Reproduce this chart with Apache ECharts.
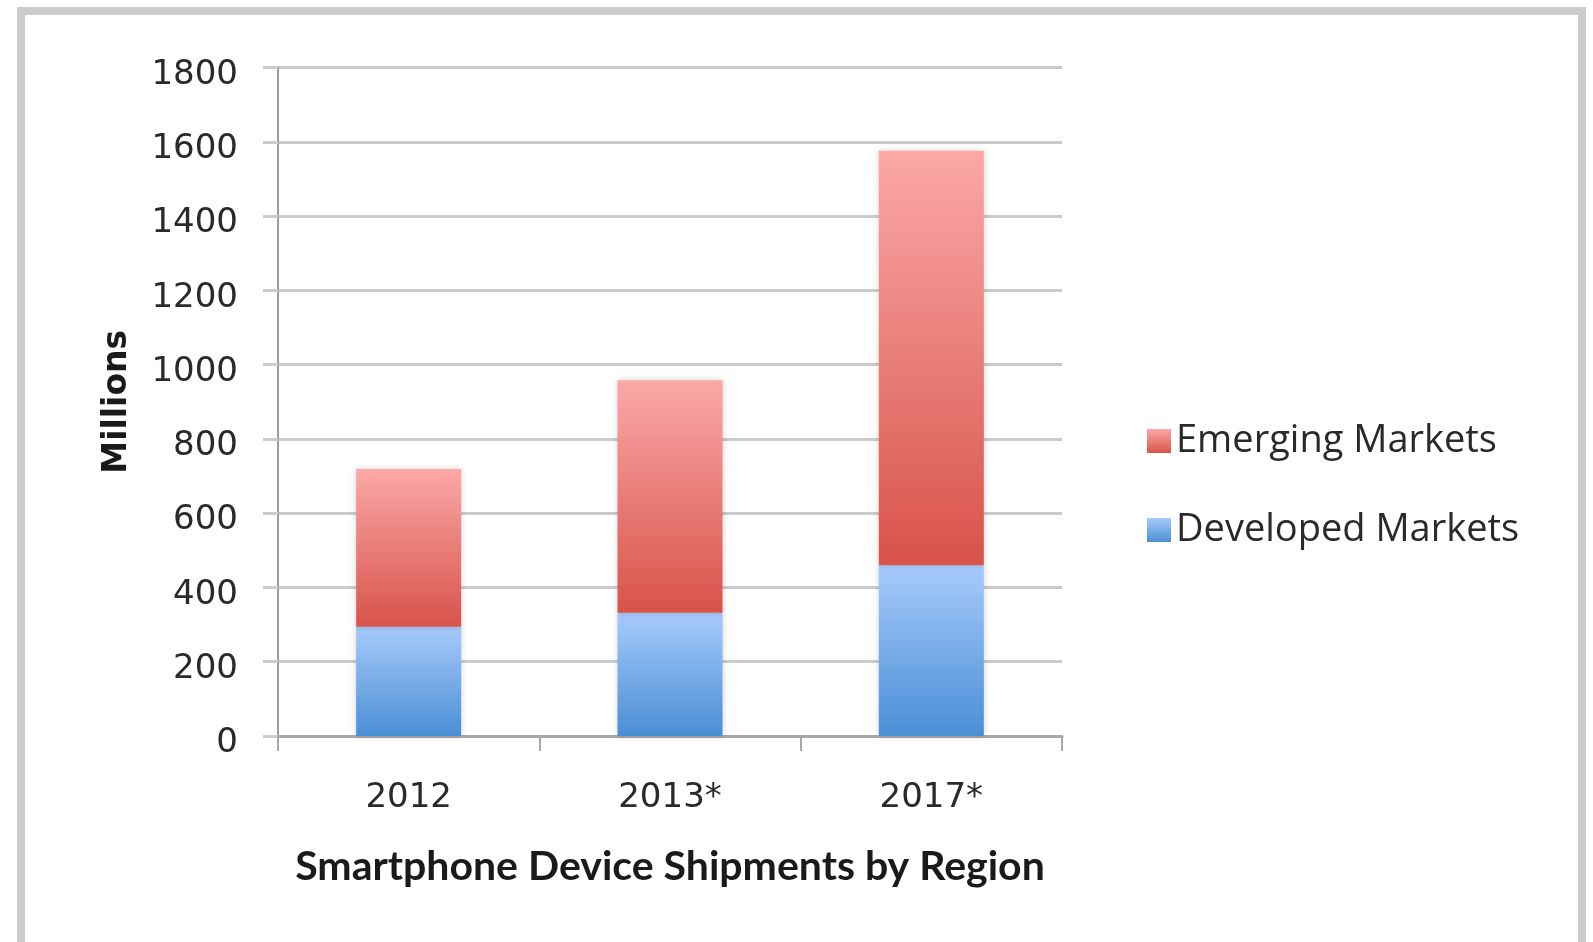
<!DOCTYPE html>
<html>
<head>
<meta charset="utf-8">
<title>Smartphone Device Shipments by Region</title>
<script src="https://cdn.jsdelivr.net/npm/echarts@6/dist/echarts.min.js"></script>
<style>
  html, body { margin: 0; padding: 0; background: #ffffff; }
  #chart { width: 1593px; height: 942px; }
</style>
</head>
<body>
<div id="chart"></div>
<script>
// Shipment data (millions of units)
const categories = ['2012', '2013*', '2017*'];
const developedMarkets = [294, 332, 460];
const emergingMarkets = [425, 626, 1116];
const seriesNames = ['Emerging Markets', 'Developed Markets'];
const yTicks = { min: 0, max: 1800, interval: 200 };

const chart = echarts.init(document.getElementById('chart'), null, { renderer: 'canvas' });

function vGradient(top, bottom) {
  return new echarts.graphic.LinearGradient(0, 0, 0, 1, [
    { offset: 0, color: top },
    { offset: 1, color: bottom }
  ]);
}

const tickFont = { fontFamily: 'DejaVu Sans', fontSize: 34, color: '#2a2a2a' };

chart.setOption({
  animation: false,
  backgroundColor: '#ffffff',
  graphic: [{
    type: 'rect',
    silent: true,
    z: -10,
    shape: { x: 21, y: 11, width: 1561, height: 1000 },
    style: { fill: 'none', stroke: '#cbcbcb', lineWidth: 8 }
  }],
  grid: { left: 278, right: 531, top: 67.5, bottom: 206, containLabel: false },
  legend: {
    data: seriesNames,
    orient: 'vertical',
    left: 1142,
    top: 416,
    itemWidth: 24,
    itemHeight: 24,
    itemGap: 49,
    icon: 'rect',
    textStyle: { fontFamily: 'Open Sans', fontSize: 38, color: '#2a2a2a', padding: [0, 0, 0, 0], lineHeight: 40 }
  },
  xAxis: {
    type: 'category',
    data: categories,
    name: 'Smartphone Device Shipments by Region',
    nameLocation: 'middle',
    nameGap: 110,
    nameTextStyle: { fontFamily: 'Lato', fontWeight: 'bold', fontSize: 41, color: '#1a1a1a' },
    axisLine: { show: true, lineStyle: { color: '#a8a8a8', width: 3 } },
    axisTick: { show: true, length: 15, lineStyle: { color: '#a8a8a8', width: 2 } },
    axisLabel: Object.assign({ margin: 45 }, tickFont),
    splitLine: { show: false }
  },
  yAxis: {
    type: 'value',
    min: yTicks.min,
    max: yTicks.max,
    interval: yTicks.interval,
    name: 'Millions',
    nameLocation: 'middle',
    nameRotate: 90,
    nameGap: 144,
    nameTextStyle: { fontFamily: 'DejaVu Sans', fontWeight: 'bold', fontSize: 33, color: '#1a1a1a' },
    axisLine: { show: true, lineStyle: { color: '#9c9c9c', width: 2 } },
    axisTick: { show: true, length: 15, lineStyle: { color: '#cbcbcb', width: 3 } },
    axisLabel: Object.assign({
      margin: 40,
      verticalAlign: 'top',
      lineHeight: 15,
      formatter: function (v) { return String(v); }
    }, tickFont),
    splitLine: { show: true, lineStyle: { color: '#cbcbcb', width: 3 } }
  },
  series: [
    {
      name: 'Developed Markets',
      type: 'bar',
      stack: 'total',
      barWidth: 105,
      data: developedMarkets,
      itemStyle: {
        color: vGradient('#a7cbfb', '#4a8ed6'),
        shadowBlur: 6,
        shadowColor: 'rgba(0,0,0,0.18)'
      }
    },
    {
      name: 'Emerging Markets',
      type: 'bar',
      stack: 'total',
      barWidth: 105,
      data: emergingMarkets,
      itemStyle: {
        color: vGradient('#fba8a7', '#d8534a'),
        shadowBlur: 6,
        shadowColor: 'rgba(0,0,0,0.18)'
      }
    }
  ]
});
</script>
</body>
</html>
